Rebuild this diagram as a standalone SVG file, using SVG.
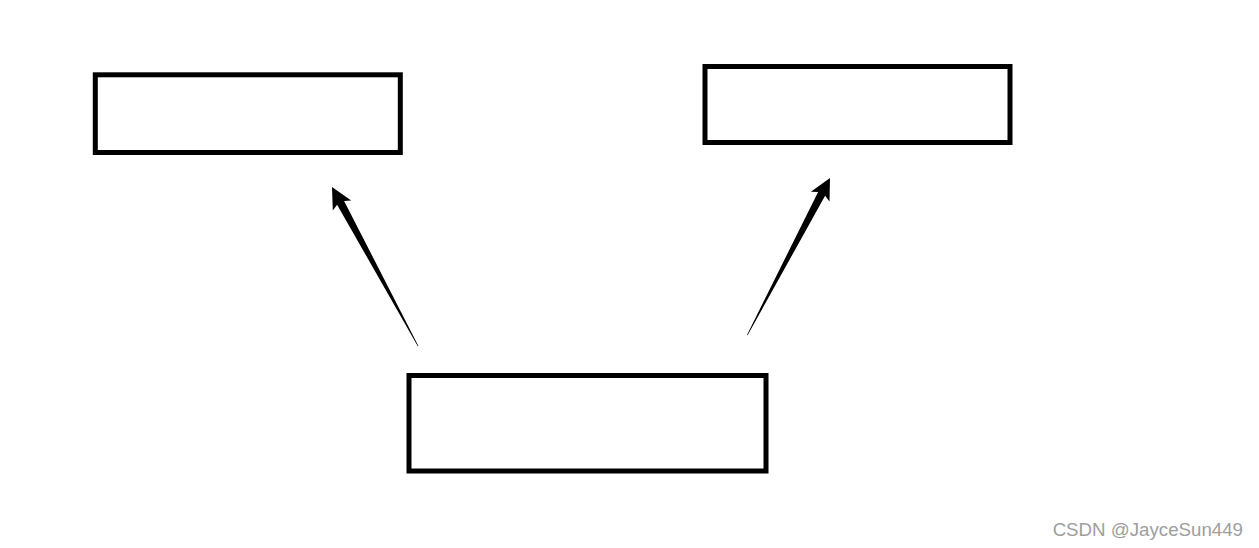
<svg xmlns="http://www.w3.org/2000/svg" width="1259" height="548" viewBox="0 0 1259 548">
<style>
.box{fill:#fff;stroke:#000;stroke-width:5}
.arrow{fill:#000;stroke:none}
.wm{font-family:"Liberation Sans",Arial,sans-serif;font-size:18.7px;fill:#9e9e9e}
</style>
<rect width="1259" height="548" fill="#fff"/>
<g id="node-left"><rect class="box" x="95.3" y="74.8" width="305" height="77.7"/></g>
<g id="node-right"><rect class="box" x="705" y="66.5" width="305" height="76"/></g>
<g id="node-bottom"><rect class="box" x="409" y="375.5" width="357" height="95.5"/></g>
<g id="connectors">
<path class="arrow" d="M332,187 L351.2,200.5 L344.1,200.9 L418.4,346 L417.8,346.2 L337.1,204.7 L332.8,210.5 Z"/>
<path class="arrow" d="M830,178 L829.5,201.5 L825.1,195.8 L747.6,335.2 L747,335 L818.1,192 L810.9,191.7 Z"/>
</g>
<text class="wm" x="1243" y="536" text-anchor="end">CSDN @JayceSun449</text>
</svg>
